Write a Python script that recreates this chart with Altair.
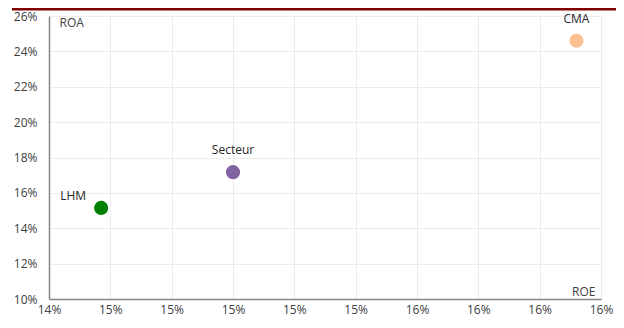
import altair as alt
import pandas as pd

names = ["LHM", "Secteur", "CMA"]
roe = [0.1457, 0.1500, 0.1612]
roa = [0.1515, 0.1717, 0.2460]
colors = ["#008000", "#8064A2", "#FAC090"]
x_ticks = [0.144, 0.146, 0.148, 0.150, 0.152, 0.154, 0.156, 0.158, 0.160, 0.162]
y_ticks = [0.10, 0.12, 0.14, 0.16, 0.18, 0.20, 0.22, 0.24, 0.26]

df = pd.DataFrame({"name": names, "ROE": roe, "ROA": roa})

FONT = "Open Sans"
TXT = "#404040"

x = alt.X("ROE:Q",
          scale=alt.Scale(domain=[x_ticks[0], x_ticks[-1]], nice=False, zero=False),
          axis=alt.Axis(values=x_ticks, format=".0%", title="ROE",
                        titleAlign="right", titleAnchor="end", titleX=546, titleY=-4,
                        titleBaseline="alphabetic", titleFontWeight="normal",
                        titleFont=FONT, titleFontSize=12, titleColor=TXT,
                        labelFont=FONT, labelFontSize=12, labelColor=TXT,
                        labelPadding=5, labelFlush=False, labelOverlap=False,
                        ticks=False, tickSize=0,
                        domainColor="#868686", domainWidth=1.5,
                        grid=True, gridColor="#d9d9d9", gridDash=[1, 1], gridWidth=1))
y = alt.Y("ROA:Q",
          scale=alt.Scale(domain=[y_ticks[0], y_ticks[-1]], nice=False, zero=False),
          axis=alt.Axis(values=y_ticks, format=".0%", title="ROA",
                        titleAngle=0, titleAlign="left", titleAnchor="start",
                        titleX=10, titleY=10, titleBaseline="alphabetic",
                        titleFontWeight="normal",
                        titleFont=FONT, titleFontSize=12, titleColor=TXT,
                        labelFont=FONT, labelFontSize=12, labelColor=TXT,
                        labelPadding=12, labelFlush=False, labelOverlap=False,
                        labelSeparation=0,
                        ticks=False, tickSize=0,
                        domainColor="#868686", domainWidth=1.5,
                        grid=True, gridColor="#d9d9d9", gridDash=[1, 1], gridWidth=1))

color = alt.Color("name:N", scale=alt.Scale(domain=names, range=colors), legend=None)

points = alt.Chart(df).mark_circle(size=200, opacity=1).encode(x=x, y=y, color=color)

labels_up = alt.Chart(df).transform_filter(alt.datum.name != "LHM").mark_text(
    dy=-22, font=FONT, fontSize=12, color="#262626", baseline="middle", align="center"
).encode(x=x, y=y, text="name:N")

labels_left = alt.Chart(df).transform_filter(alt.datum.name == "LHM").mark_text(
    dx=-28, dy=-12, font=FONT, fontSize=12, color="#262626", baseline="middle", align="center"
).encode(x=x, y=y, text="name:N")

top_bar = alt.Chart(pd.DataFrame({"a": [0]})).mark_rule(
    color="#800000", strokeWidth=2.5
).encode(x=alt.value(-37), x2=alt.value(567), y=alt.value(-6.75))

chart = alt.layer(points, labels_up, labels_left, top_bar).properties(
    width=552, height=283,
    padding={"left": 41, "top": 8, "right": 15, "bottom": 21},
    autosize=alt.AutoSizeParams(type="none"),
).configure_view(stroke=None)

chart.save("out.html", embed_options={"renderer": "svg", "actions": False})
